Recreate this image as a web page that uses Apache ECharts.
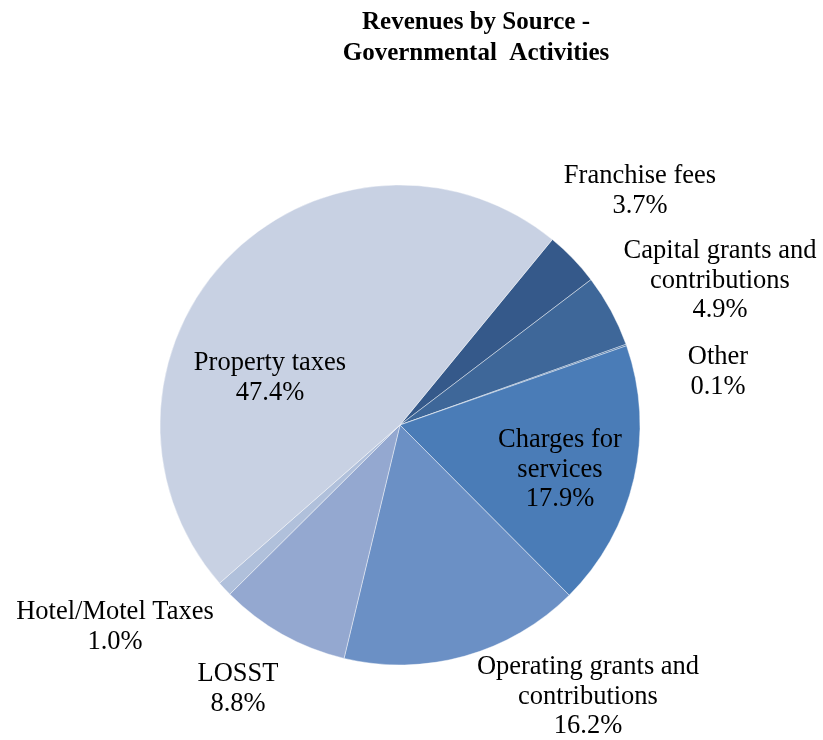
<!DOCTYPE html>
<html>
<head>
<meta charset="utf-8">
<script src="https://cdn.jsdelivr.net/npm/echarts@6/dist/echarts.min.js"></script>
<style>
  html, body { margin: 0; padding: 0; background: #fff; }
  #chart { width: 823px; height: 740px; }
</style>
</head>
<body>
<div id="chart"></div>
<script>
// Revenue sources (percent of governmental activities revenue), clockwise order
const categories = [
  'Franchise fees',
  'Capital grants and\ncontributions',
  'Other',
  'Charges for\nservices',
  'Operating grants and\ncontributions',
  'LOSST',
  'Hotel/Motel Taxes',
  'Property taxes'
];
const shares = [3.7, 4.9, 0.1, 17.9, 16.2, 8.8, 1.0, 47.4];

const sliceColors = ['#35598A', '#3E6799', '#3F6A9E', '#4A7CB7', '#6B90C5', '#94A8D0', '#B0C0DB', '#C8D1E3'];

// label block centres (px) for each slice label
const labelSpots = [
  [640, 191], [720, 281], [718, 372], [560, 470],
  [588, 697], [238, 689], [115, 627], [270, 378]
];

const chart = echarts.init(document.getElementById('chart'));
chart.setOption({
  backgroundColor: '#ffffff',
  animation: false,
  title: {
    text: 'Revenues by Source -\nGovernmental  Activities',
    left: 471,
    top: 2,
    textAlign: 'center',
    textStyle: {
      fontFamily: 'Liberation Serif',
      fontWeight: 'bold',
      fontSize: 25,
      lineHeight: 31,
      color: '#000'
    }
  },
  series: [{
    type: 'pie',
    center: [400, 425],
    radius: [0, 240],
    startAngle: 50.6,
    clockwise: true,
    avoidLabelOverlap: false,
    itemStyle: { borderColor: 'rgba(255,255,255,0.6)', borderWidth: 0.7 },
    label: {
      show: true,
      position: 'outside',
      fontFamily: 'Liberation Serif',
      fontSize: 26.5,
      lineHeight: 29.5,
      color: '#000',
      align: 'center',
      formatter: p => p.name + '\n' + p.value.toFixed(1) + '%'
    },
    labelLine: { show: false },
    labelLayout: p => ({
      x: labelSpots[p.dataIndex][0],
      y: labelSpots[p.dataIndex][1],
      align: 'center',
      verticalAlign: 'middle'
    }),
    data: categories.map((c, i) => ({
      name: c,
      value: shares[i],
      itemStyle: { color: sliceColors[i] }
    }))
  }]
});
</script>
</body>
</html>
